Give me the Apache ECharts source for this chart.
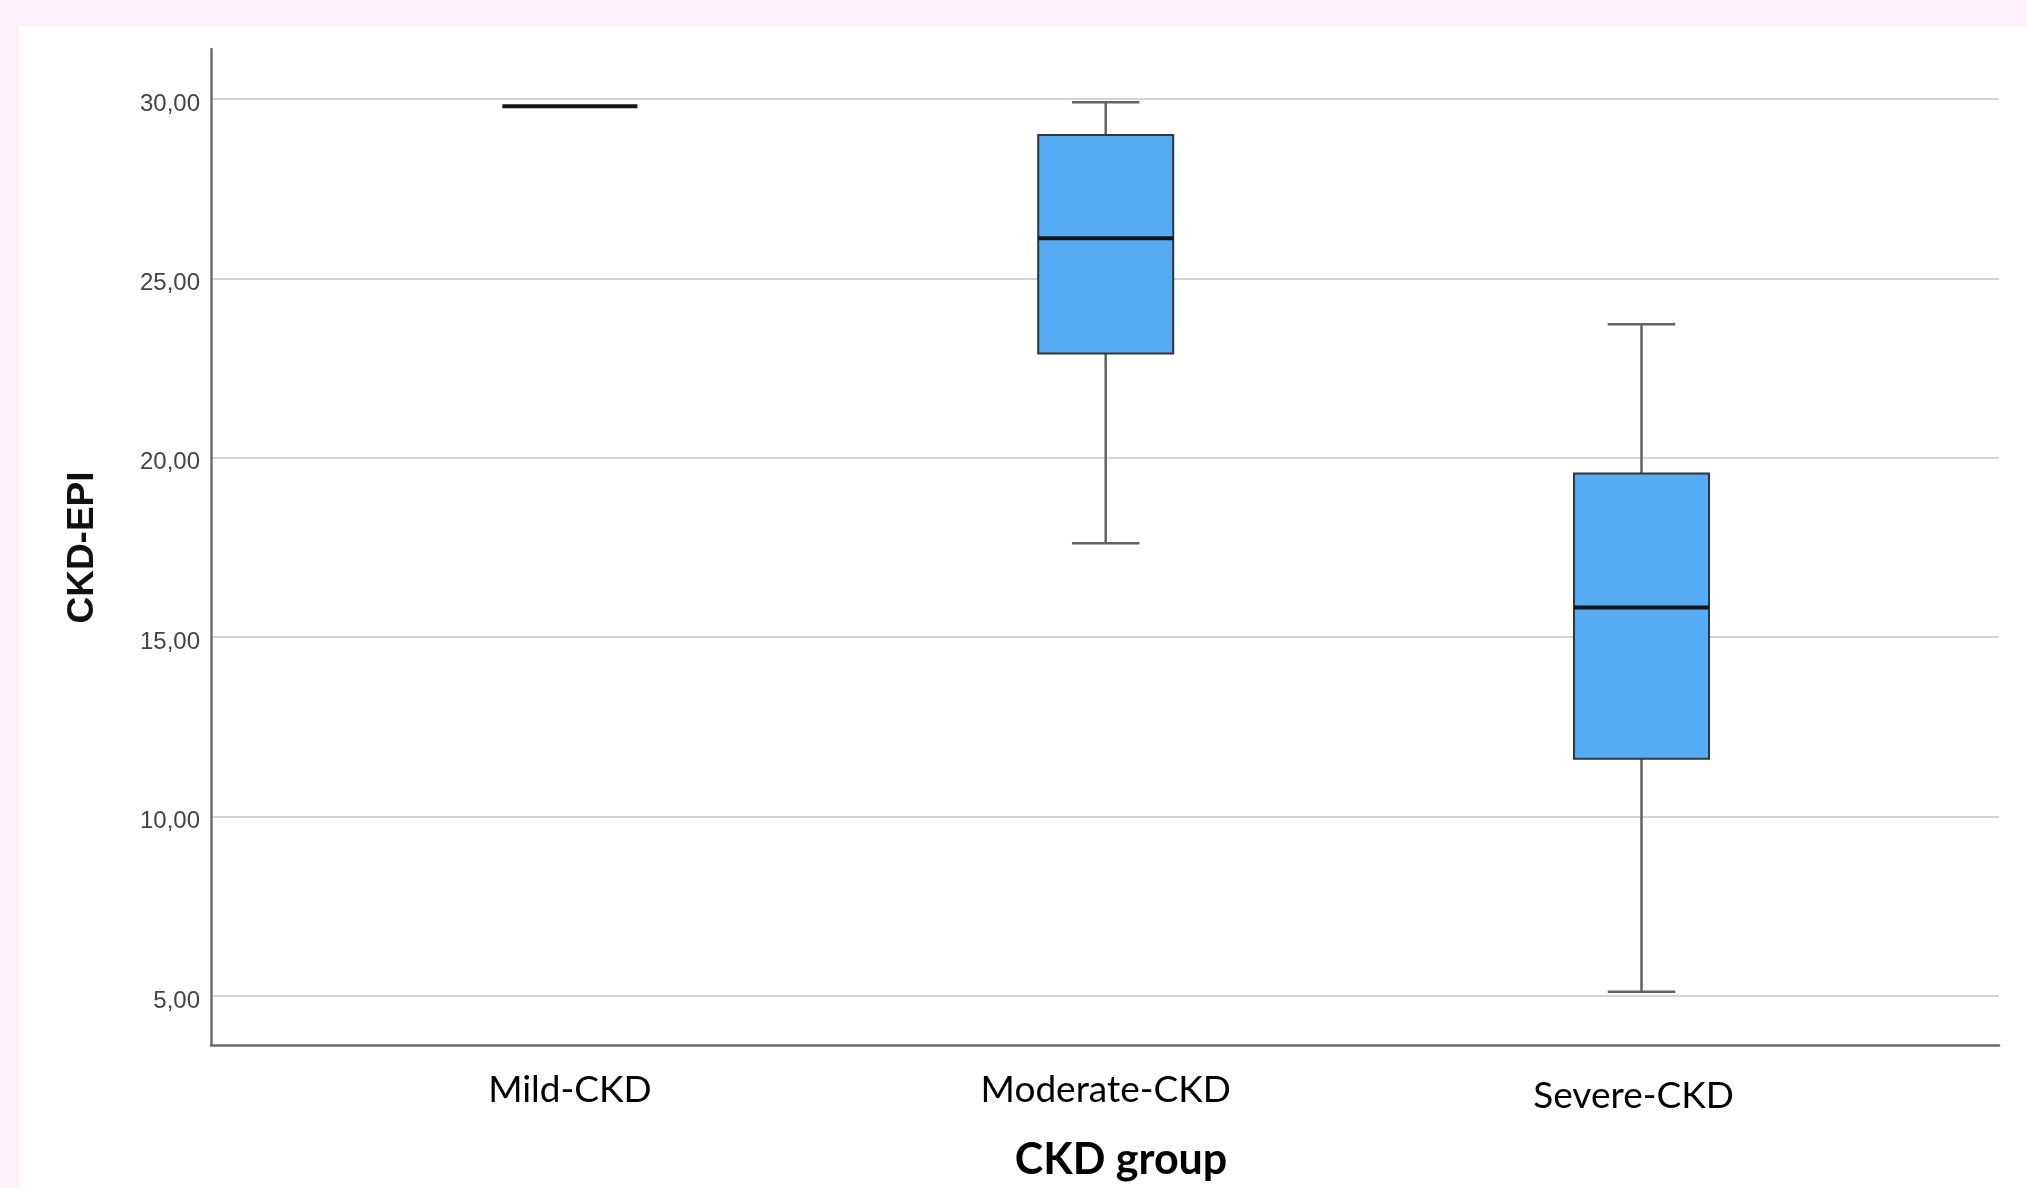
<!DOCTYPE html>
<html>
<head>
<meta charset="utf-8">
<script src="https://cdn.jsdelivr.net/npm/echarts@6/dist/echarts.min.js"></script>
<style>
  html, body { margin: 0; padding: 0; width: 2027px; height: 1188px; background: #fef0fa; overflow: hidden; }
  #panel { position: absolute; left: 19px; top: 26px; right: 0; bottom: 0; background: #ffffff; }
  #chart { position: absolute; left: 0; top: 0; width: 2027px; height: 1188px; }
</style>
</head>
<body>
<div id="panel"></div>
<div id="chart"></div>
<script>
// ---- data ----
const categories  = ['Mild-CKD', 'Moderate-CKD', 'Severe-CKD'];
const whiskerLow  = [29.80, 17.62, 5.12];
const q1          = [29.80, 22.91, 11.61];
const median      = [29.80, 26.12, 15.83];
const q3          = [29.80, 29.00, 19.56];
const whiskerHigh = [29.80, 29.91, 23.72];
const yTicks      = [5, 10, 15, 20, 25, 30];
const yTitle = 'CKD-EPI';
const xTitle = 'CKD group';

const chart = echarts.init(document.getElementById('chart'), null, { renderer: 'canvas' });

function renderItem(params, api) {
  const i = api.value(0);
  const lo = api.value(1), a = api.value(2), m = api.value(3), b = api.value(4), hi = api.value(5);
  const band = api.size([1, 0])[0];
  const bw = band * 0.252;
  const cw = bw / 2;
  const pLo = api.coord([i, lo]), pA = api.coord([i, a]), pM = api.coord([i, m]),
        pB = api.coord([i, b]), pHi = api.coord([i, hi]);
  const x = pM[0];
  const children = [];
  const whiskerStyle = { stroke: '#626262', lineWidth: 2.5 };
  if (hi > b) {
    children.push({ type: 'line', shape: { x1: x, y1: pB[1], x2: x, y2: pHi[1] }, style: whiskerStyle });
    children.push({ type: 'line', shape: { x1: x - cw / 2, y1: pHi[1], x2: x + cw / 2, y2: pHi[1] }, style: whiskerStyle });
  }
  if (lo < a) {
    children.push({ type: 'line', shape: { x1: x, y1: pA[1], x2: x, y2: pLo[1] }, style: whiskerStyle });
    children.push({ type: 'line', shape: { x1: x - cw / 2, y1: pLo[1], x2: x + cw / 2, y2: pLo[1] }, style: whiskerStyle });
  }
  if (b > a) {
    children.push({ type: 'rect', shape: { x: x - bw / 2, y: pB[1], width: bw, height: pA[1] - pB[1] },
      style: { fill: '#56abf5', stroke: '#343434', lineWidth: 2 } });
  }
  children.push({ type: 'line', shape: { x1: x - bw / 2, y1: pM[1], x2: x + bw / 2, y2: pM[1] },
    style: { stroke: '#151515', lineWidth: 4 } });
  return { type: 'group', children: children };
}

const option = {
  animation: false,
  grid: [
    { left: 211, right: 28, top: 99, bottom: 192 },      // gridlines + y labels
    { left: 211, right: 28, top: 49, bottom: 143 },      // axis lines
    { left: 302, right: 117.6, top: 99, bottom: 192 }    // boxes + category labels
  ],
  xAxis: [
    { gridIndex: 0, type: 'value', min: 0, max: 1, show: false },
    { gridIndex: 1, type: 'value', min: 0, max: 1,
      axisLine: { show: true, onZero: false, lineStyle: { color: '#6b6b6b', width: 2.5 } },
      axisTick: { show: false }, axisLabel: { show: false }, splitLine: { show: false },
      name: xTitle, nameLocation: 'middle', nameGap: 94,
      nameTextStyle: { fontFamily: 'Lato', fontWeight: 'bold', fontSize: 43, color: '#000', padding: [0, 0, 0, 32] } },
    { gridIndex: 2, type: 'category', data: categories,
      axisLine: { show: false }, axisTick: { show: false },
      axisLabel: { margin: 73, fontFamily: 'Lato', fontSize: 37, color: '#000', lineHeight: 42,
        formatter: function (v) { return v === 'Severe-CKD' ? '{s|' + v + '}' : v; },
        rich: { s: { fontFamily: 'Lato', fontSize: 37, color: '#000', padding: [12, 16, 0, 0], lineHeight: 42 } } } }
  ],
  yAxis: [
    { gridIndex: 0, type: 'value', min: yTicks[0], max: yTicks[yTicks.length - 1], interval: 5,
      axisLine: { show: false }, axisTick: { show: false },
      axisLabel: { margin: 11, fontFamily: 'Liberation Sans', fontSize: 24, color: '#444444',
        verticalAlign: 'top', lineHeight: 10,
        formatter: function (v) { return v.toFixed(2).replace('.', ','); } },
      splitLine: { show: true, lineStyle: { color: '#d4d4d4', width: 2 } },
      name: yTitle, nameLocation: 'middle', nameGap: 110,
      nameTextStyle: { fontFamily: 'Liberation Sans', fontWeight: 'bold', fontSize: 37, color: '#111' } },
    { gridIndex: 1, type: 'value', min: 0, max: 1,
      axisLine: { show: true, onZero: false, lineStyle: { color: '#6b6b6b', width: 2.5 } },
      axisTick: { show: false }, axisLabel: { show: false }, splitLine: { show: false } },
    { gridIndex: 2, type: 'value', min: yTicks[0], max: yTicks[yTicks.length - 1], show: false }
  ],
  series: [{
    type: 'custom', xAxisIndex: 2, yAxisIndex: 2,
    renderItem: renderItem,
    encode: { x: 0, y: [1, 2, 3, 4, 5] },
    data: categories.map(function (c, i) { return [i, whiskerLow[i], q1[i], median[i], q3[i], whiskerHigh[i]]; })
  }]
};
chart.setOption(option);
</script>
</body>
</html>
